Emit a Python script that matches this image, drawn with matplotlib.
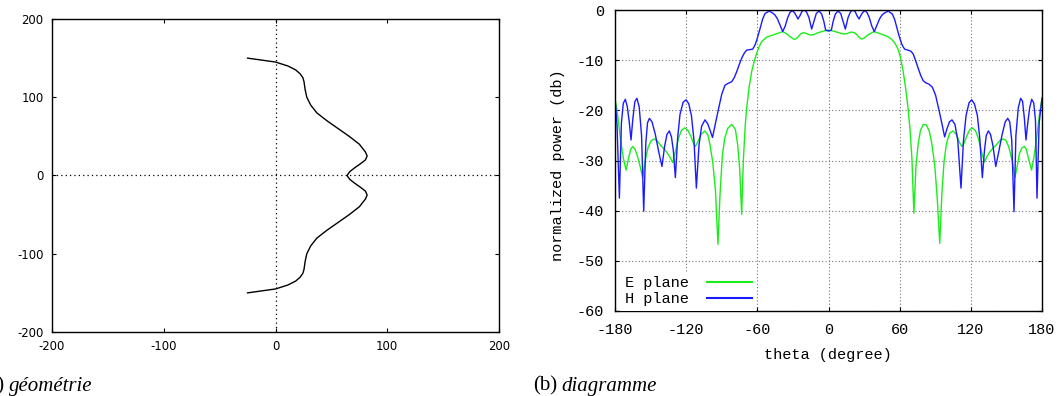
import matplotlib
matplotlib.use("Agg")
import matplotlib.pyplot as plt

plt.rcParams["axes.unicode_minus"] = False

# (a) geometry profile (upper half then lower half)
geo_y = [150, 145, 140, 135, 130, 125, 120, 110, 100, 90, 80, 70, 60, 50, 40,
         30, 25, 20, 15, 10, 5, 0, -5, -10, -15, -20, -25, -30, -40, -50, -60,
         -70, -80, -90, -100, -110, -120, -125, -130, -135, -140, -145, -150]
geo_x = [-25, 0, 11, 18, 22, 24.5, 25.5, 26.5, 28, 31.5, 37, 46, 56, 66, 75,
         80.5, 82, 80.5, 76, 71, 66.5, 64, 66.5, 71, 76, 80.5, 82, 80.5, 75, 66, 56,
         46, 37, 31.5, 28, 26.5, 25.5, 24.5, 22, 18, 11, 0, -25]

# (b) radiation pattern, H plane
h_theta = [-180, -178.3, -176.3, -174.6, -173, -171.3, -169.6, -168, -166.5, -165,
           -163.3, -161.5, -159.6, -157.6, -155.8, -154, -152.6, -151, -148.8, -146,
           -143.2, -140.4, -138.2, -136.2, -134.2, -132.4, -130.8, -129.1, -127.2, -125.2,
           -122.6, -120.1, -117.8, -115.6, -113.4, -111.4, -109.2, -107, -104.2, -101.8,
           -99.8, -97.8, -95.5, -92.9, -90, -87.3, -84.5, -81.6, -79.5, -77.4,
           -75.3, -73.2, -71, -69, -66.5, -63.9, -62, -60.5, -59, -57.7,
           -55.5, -53.5, -49.9, -47.2, -45.1, -43, -40.9, -38.6, -36.5, -34.5,
           -32.5, -30.5, -28.5, -26.8, -25.8, -24.2, -22.4, -20.5, -18.5, -16.5,
           -14.2, -12.2, -10.3, -8, -5.8, -4, -2.4, 0, 2.4, 4,
           5.8, 8, 10.3, 12.2, 14.2, 16.5, 18.5, 20.5, 22.4, 24.2,
           25.8, 26.8, 28.5, 30.5, 32.5, 34.5, 36.5, 38.6, 40.9, 43,
           45.1, 47.2, 50.4, 53.8, 55.8, 57.9, 59.3, 60.8, 62.3, 64.2,
           66.8, 69.4, 71.5, 73.6, 75.6, 77.7, 79.8, 82, 84.8, 87.6,
           90.3, 93, 95.5, 97.9, 100, 102, 104.1, 106.6, 109, 111.7,
           113.8, 116, 118.5, 120.7, 123, 125.5, 127.5, 129.7, 131.5, 133,
           134.8, 136.6, 138.6, 141, 143.5, 146.3, 149, 151.1, 152.8, 154.5,
           156.4, 158, 160, 162, 163.6, 165.1, 166.5, 168, 169.6, 171.3,
           173, 174.5, 175.8, 177.6, 180]
h_db = [-17.6, -23, -37.5, -22.5, -18.6, -17.8, -19.3, -22.3, -25.9, -21.8,
        -18.3, -17.6, -19.3, -25, -40.1, -26.5, -22.5, -21.6, -22.3, -24.8,
        -28.2, -31.2, -27.2, -24.8, -24.1, -25.3, -28, -33.4, -25.5, -20.8,
        -18.4, -17.9, -18.7, -21, -26, -35.5, -27, -23.2, -21.9, -22.7,
        -24, -25.4, -22.8, -19.9, -16.8, -15.0, -14.6, -14.3, -13.5, -12.3,
        -10.9, -9.6, -8.6, -8.0, -7.9, -7.8, -7.0, -6.0, -4.8, -3.7,
        -1.8, -0.7, -0.2, -0.6, -1.0, -1.8, -3.0, -4.3, -3.2, -1.6,
        -0.5, -0.1, -0.6, -1.3, -1.8, -1.2, -0.3, 0, -0.4, -1.5,
        -3.8, -2.2, -0.7, -0.2, -0.8, -2.2, -4.0, -4.2, -4.0, -2.2,
        -0.8, -0.2, -0.7, -2.2, -3.8, -1.5, -0.4, 0, -0.3, -1.2,
        -1.8, -1.3, -0.6, -0.1, -0.5, -1.6, -3.2, -4.3, -3.0, -1.8,
        -1.0, -0.6, -0.2, -0.8, -1.9, -3.8, -5.0, -6.1, -7.1, -7.8,
        -8.0, -8.2, -8.8, -10.2, -11.6, -13.0, -14.1, -14.5, -14.8, -15.4,
        -17.0, -19.8, -22.5, -25.3, -23.6, -22.3, -21.9, -22.8, -26, -35.5,
        -26, -21, -18.5, -17.9, -18.7, -21, -25.5, -33.4, -28, -25,
        -24.1, -24.8, -27, -31.2, -28.3, -24.9, -22.3, -21.6, -22.3, -26,
        -40.2, -25, -19.5, -17.6, -18.2, -21.5, -25.9, -22.5, -19.5, -17.8,
        -18.5, -22, -37.5, -22.5, -17.6]

# (b) radiation pattern, E plane
e_theta = [-180, -178, -175.5, -173, -170.7, -168.5, -166.8, -165.1, -163, -161,
           -158.8, -156.7, -154.5, -152, -149.3, -146.6, -144, -141.5, -139, -136.5,
           -134, -131.4, -129, -126.5, -124, -121.3, -118.5, -116, -113.8, -112.3,
           -110, -107.5, -104.2, -101.5, -99.9, -97.5, -95.3, -93.2, -91.5, -89.5,
           -87.5, -85, -81.6, -78.5, -76.5, -74.8, -73.2, -71.8, -70.2, -69,
           -67, -64.8, -62.6, -60.5, -58.5, -56.3, -52.1, -47, -42, -38.6,
           -35.5, -32.5, -29.5, -27.7, -25.8, -23.5, -21.2, -18.5, -15.3, -12.5,
           -8.5, -4, 0, 4, 8.5, 12.8, 15.5, 19, 21.5, 23.8,
           26, 27.8, 30, 33, 38.4, 42, 46.5, 50, 53, 56,
           58.6, 60.5, 62.8, 65, 67, 68.8, 70.3, 72, 73.8, 75.5,
           77.5, 80, 82.5, 85, 87, 89.6, 91.8, 93.8, 95.6, 97.5,
           99.5, 102, 105, 108, 110.4, 112.4, 114.4, 116.8, 119, 121.4,
           124, 126.5, 129, 131.5, 134, 136.5, 139, 141.8, 144.6, 147.2,
           149.6, 152, 154.8, 157.2, 159.2, 161, 163, 165.1, 166.8, 168.6,
           171.2, 173.2, 175.6, 178, 180]
e_db = [-17.6, -20.5, -25.5, -29.5, -31.9, -29.5, -27.8, -27.2, -27.8, -29.2,
        -31.2, -33.4, -30, -27.3, -26.0, -25.7, -26.2, -27.0, -27.6, -28.3,
        -29.2, -30.4, -28.2, -25.6, -24.0, -23.5, -24.0, -25.2, -26.6, -27.2,
        -26.2, -24.8, -24.1, -25.0, -26.9, -30.5, -36, -46.7, -36.9, -29,
        -25.6, -23.6, -22.8, -23.8, -27, -32, -40.7, -30, -23, -19.6,
        -15.5, -12.3, -10.2, -8.6, -7.3, -6.3, -5.4, -5.0, -4.6, -4.3,
        -4.7, -5.3, -5.8, -5.8, -5.4, -4.8, -4.5, -4.7, -5.0, -4.9,
        -4.5, -4.2, -4.0, -4.2, -4.5, -4.8, -4.7, -4.4, -4.5, -4.9,
        -5.5, -5.8, -5.6, -5.0, -4.3, -4.6, -5.0, -5.3, -5.8, -6.6,
        -7.8, -9.3, -12.0, -15.5, -19.4, -24, -29.5, -40.5, -31, -26.9,
        -24, -22.8, -22.9, -24.2, -26.5, -31, -38, -46.5, -36.5, -30,
        -26.6, -24.6, -24.1, -24.9, -26.4, -27.2, -26.5, -25.0, -23.9, -23.5,
        -24.1, -25.7, -28.3, -30.3, -29, -28.1, -27.5, -26.8, -26.0, -25.7,
        -26.0, -27.3, -30, -33.4, -31, -28.6, -27.5, -27.2, -27.8, -29.6,
        -31.9, -29.4, -25.3, -20.6, -17.6]

theta_ticks = [-180, -120, -60, 0, 60, 120, 180]
db_ticks = [-60, -50, -40, -30, -20, -10, 0]
geo_ticks = [-200, -100, 0, 100, 200]

mono = "Liberation Mono"
serif = "Liberation Serif"

fig = plt.figure(figsize=(10.62, 3.96), dpi=100)

# ---- (a) geometrie ----
ax1 = fig.add_axes([52 / 1062, 1 - 332 / 396, 447 / 1062, 313 / 396])
ax1.axhline(0, color="black", lw=0.9, ls=(0, (1, 2.5)))
ax1.axvline(0, color="black", lw=0.9, ls=(0, (1, 2.5)))
ax1.plot(geo_x, geo_y, color="black", lw=1.0)
ax1.set_xlim(-200, 200)
ax1.set_ylim(-200, 200)
ax1.set_xticks(geo_ticks)
ax1.set_yticks(geo_ticks)
ax1.tick_params(direction="in", length=3, width=0.8, top=True, right=True,
                labelsize=8.4, pad=6)
for s in ax1.spines.values():
    s.set_linewidth(1.0)

# ---- (b) diagramme ----
ax2 = fig.add_axes([615 / 1062, 1 - 311 / 396, 427 / 1062, 301 / 396])
ax2.grid(True, color="#777777", lw=0.8, ls=(0, (1, 2)))
ax2.set_axisbelow(True)
ax2.plot(e_theta, e_db, color="#1aee1a", lw=1.0, label="E plane")
ax2.plot(h_theta, h_db, color="#1a1aff", lw=1.0, label="H plane")
ax2.set_xlim(-180, 180)
ax2.set_ylim(-60, 0)
ax2.set_xticks(theta_ticks)
ax2.set_yticks(db_ticks)
ax2.tick_params(direction="in", length=3, width=0.8, top=True, right=True,
                labelsize=11)
ax2.tick_params(axis="x", pad=9)
ax2.tick_params(axis="y", pad=8)
for lab in ax2.get_xticklabels() + ax2.get_yticklabels():
    lab.set_family(mono)
for s in ax2.spines.values():
    s.set_linewidth(1.0)

ax2.set_xlabel("theta (degree)", family=mono, fontsize=11)
ax2.set_ylabel("normalized power (db)", family=mono, fontsize=11)
ax2.xaxis.set_label_coords(0.498, -0.123)
ax2.yaxis.set_label_coords(-0.118, 0.485)

leg = ax2.legend(loc="lower left", bbox_to_anchor=(0.0117, 0.0), borderaxespad=0,
                 borderpad=0.3, markerfirst=False, handlelength=2.95,
                 handletextpad=1.2, labelspacing=0.15, frameon=True,
                 fancybox=False, prop={"family": mono, "size": 11})
leg.get_frame().set_facecolor("white")
leg.get_frame().set_edgecolor("none")
leg.get_frame().set_alpha(1)
for line in leg.get_lines():
    line.set_linewidth(1.5)

# captions (the "(a)" is clipped at the left edge, as in the original page)
fig.text(4 / 1062, 5.5 / 396, "(a)", family=serif, fontsize=15, ha="right", va="baseline")
fig.text(9.3 / 1062, 5.5 / 396, "géométrie", family=serif, style="italic", fontsize=15,
         ha="left", va="baseline")
fig.text(557 / 1062, 5.5 / 396, "(b)", family=serif, fontsize=15, ha="right", va="baseline")
fig.text(561.7 / 1062, 5.5 / 396, "diagramme", family=serif, style="italic", fontsize=15,
         ha="left", va="baseline")

fig.savefig("out.png", dpi=100)
